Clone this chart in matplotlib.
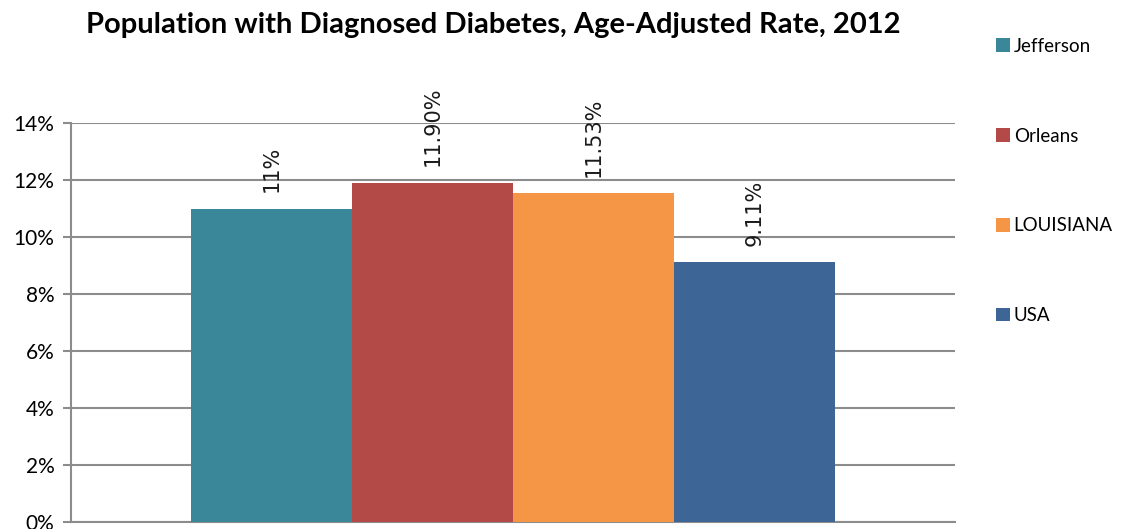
import matplotlib
matplotlib.use("Agg")
import matplotlib.pyplot as plt
import numpy as np

# values
regions = ['Jefferson', 'Orleans', 'LOUISIANA', 'USA']
rates = [0.11, 0.119, 0.1153, 0.0911]
rate_labels = ['11%', '11.90%', '11.53%', '9.11%']
colors = ['#3A8799', '#B44A48', '#F59646', '#3D6596']
yticks = [0, 0.02, 0.04, 0.06, 0.08, 0.10, 0.12, 0.14]
ytick_labels = ['0%', '2%', '4%', '6%', '8%', '10%', '12%', '14%']

fig = plt.figure(figsize=(11.26, 5.29), dpi=100)
ax = fig.add_axes([71 / 1126, 7 / 529, 884 / 1126, 399 / 529])

x = np.arange(len(regions))
bars = ax.bar(x, rates, width=1.0, color=colors, label=regions, zorder=3)

for b, lbl in zip(bars, rate_labels):
    ax.annotate(lbl, (b.get_x() + b.get_width() / 2, b.get_height()),
                xytext=(0, 12), textcoords='offset points',
                rotation=90, ha='center', va='bottom', fontsize=15, color='#1a1a1a')

ax.set_xlim(-1.245, 4.245)
ax.set_ylim(0, 0.14)
ax.set_yticks(yticks)
ax.set_yticklabels(ytick_labels, fontsize=15, family='Lato')
ax.set_xticks([])
ax.grid(axis='y', color='#8c8c8c', linewidth=1.5, zorder=0)
ax.tick_params(axis='y', length=6, width=1.5, color='#8c8c8c', pad=6)
for s in ['top', 'right']:
    ax.spines[s].set_visible(False)
for s in ['left', 'bottom']:
    ax.spines[s].set_color('#8c8c8c')
    ax.spines[s].set_linewidth(1.5)

fig.text(493 / 1126, 1 - 25 / 529, 'Population with Diagnosed Diabetes, Age-Adjusted Rate, 2012',
         ha='center', va='center', fontsize=21, fontweight='bold', family='Lato')

leg = fig.legend(loc='upper left', bbox_to_anchor=(979 / 1126, 1 - 21 / 529),
                 frameon=False, handlelength=0.75, handleheight=0.75, handletextpad=0.2,
                 labelspacing=3.88, prop={'family': 'Lato', 'size': 13.5})

fig.savefig('out.png', dpi=100)
